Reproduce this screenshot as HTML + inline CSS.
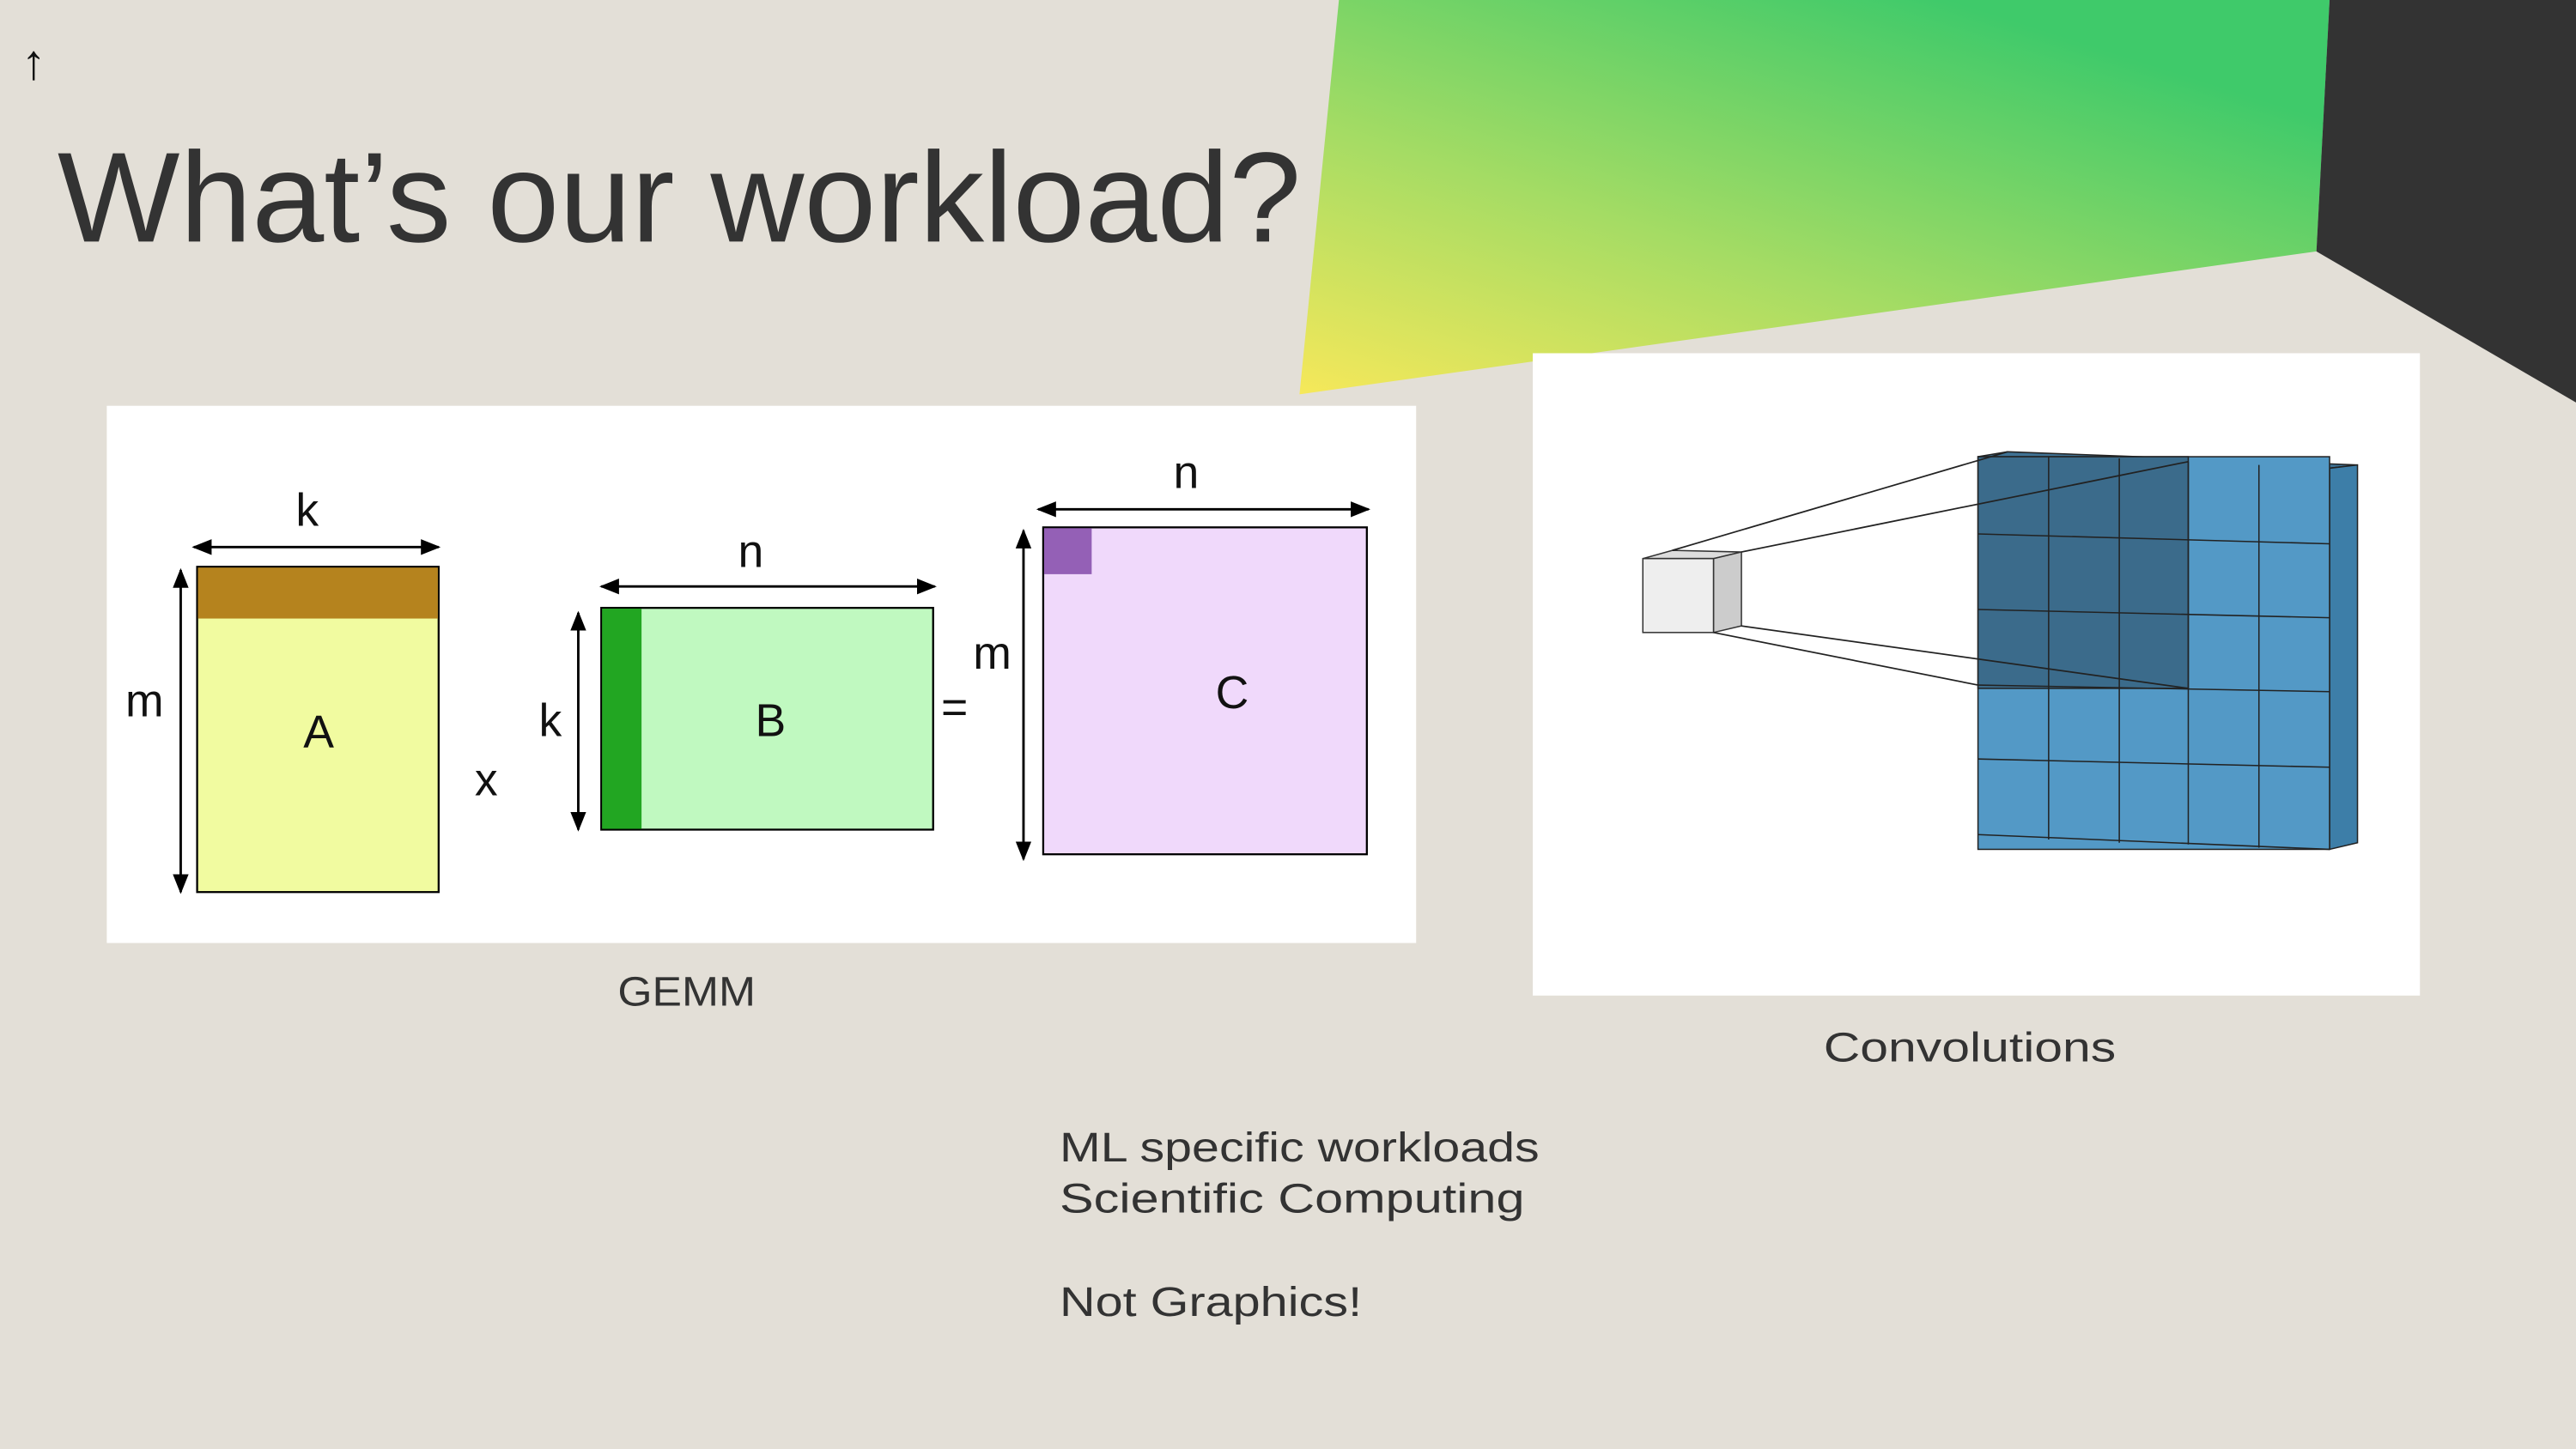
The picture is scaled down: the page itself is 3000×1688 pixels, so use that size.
<!DOCTYPE html>
<html><head><meta charset="utf-8"><style>
html,body{margin:0;padding:0;background:#e3dfd7;}
svg{display:block}
</style></head><body>
<svg width="3000" height="1688" viewBox="0 0 1568 882" preserveAspectRatio="none" xmlns="http://www.w3.org/2000/svg" font-family="Liberation Sans, sans-serif">
<defs>
<linearGradient id="g" x1="0" y1="1" x2="0.75" y2="0.1">
<stop offset="0" stop-color="#f6e85a"/><stop offset="0.45" stop-color="#a6dc64"/><stop offset="1" stop-color="#3fca6a"/>
</linearGradient>
<marker id="ar" viewBox="0 0 10 10" refX="9" refY="5" markerWidth="8" markerHeight="8" orient="auto-start-reverse"><path d="M0,1 L10,5 L0,9 z" fill="#000"/></marker>
</defs>
<rect width="1568" height="882" fill="#e3dfd7"/>
<polygon points="815,0 1418,0 1410,153 791,240" fill="url(#g)"/>
<polygon points="1418,0 1568,0 1568,245 1410,153" fill="#333333"/>
<text x="13" y="48" font-size="30" fill="#111">↑</text>
<text x="35" y="147" font-size="78" fill="#333" textLength="757" lengthAdjust="spacingAndGlyphs">What’s our workload?</text>

<rect x="65" y="247" width="797" height="327" fill="#fff"/>
<rect x="933" y="215" width="540" height="391" fill="#fff"/>

<!-- A -->
<rect x="120" y="345" width="147" height="198" fill="#f1fba0" stroke="#000" stroke-width="1.2"/>
<rect x="120.5" y="345.5" width="146" height="31" fill="#b5831e"/>
<line x1="118" y1="333" x2="267" y2="333" stroke="#000" stroke-width="1.5" marker-start="url(#ar)" marker-end="url(#ar)"/>
<line x1="110" y1="347" x2="110" y2="543" stroke="#000" stroke-width="1.5" marker-start="url(#ar)" marker-end="url(#ar)"/>
<!-- B -->
<rect x="366" y="370" width="202" height="135" fill="#c0f9c0" stroke="#000" stroke-width="1.2"/>
<rect x="366.5" y="370.5" width="24" height="134" fill="#22a622"/>
<line x1="366" y1="357" x2="569" y2="357" stroke="#000" stroke-width="1.5" marker-start="url(#ar)" marker-end="url(#ar)"/>
<line x1="352" y1="373" x2="352" y2="505" stroke="#000" stroke-width="1.5" marker-start="url(#ar)" marker-end="url(#ar)"/>
<!-- C -->
<rect x="635" y="321" width="197" height="199" fill="#f0d9fb" stroke="#000" stroke-width="1.2"/>
<rect x="635.5" y="321.5" width="29" height="28" fill="#9460b6"/>
<line x1="632" y1="310" x2="833" y2="310" stroke="#000" stroke-width="1.5" marker-start="url(#ar)" marker-end="url(#ar)"/>
<line x1="623" y1="323" x2="623" y2="523" stroke="#000" stroke-width="1.5" marker-start="url(#ar)" marker-end="url(#ar)"/>
<g font-size="28" fill="#111" text-anchor="middle">
<text x="187" y="320">k</text><text x="88" y="436">m</text><text x="194" y="455">A</text><text x="296" y="484">x</text>
<text x="457" y="345">n</text><text x="335" y="448">k</text><text x="469" y="448">B</text><text x="581" y="440">=</text>
<text x="722" y="297">n</text><text x="604" y="407">m</text><text x="750" y="431">C</text>
</g>

<!-- convolution grid -->
<polygon points="1204,278 1418,285 1435,283 1222,275" fill="#3f7294" stroke="#222" stroke-width="0.8"/>
<polygon points="1418,285 1435,283 1435,513 1418,517" fill="#3d7ea8" stroke="#222" stroke-width="0.8"/>
<g stroke="#222" stroke-width="0.8">
<rect x="1204" y="278" width="214" height="239" fill="#5399c6"/>
<rect x="1204" y="278" width="128" height="141" fill="#3b6b8b"/>
<line x1="1247" y1="278" x2="1247" y2="511"/><line x1="1290" y1="279" x2="1290" y2="513"/>
<line x1="1332" y1="281" x2="1332" y2="514"/><line x1="1375" y1="283" x2="1375" y2="516"/>
<line x1="1204" y1="325" x2="1418" y2="331"/><line x1="1204" y1="371" x2="1418" y2="376"/>
<line x1="1204" y1="417" x2="1418" y2="421"/><line x1="1204" y1="462" x2="1418" y2="467"/>
<line x1="1204" y1="508" x2="1418" y2="517"/>
</g>
<!-- small cube -->
<polygon points="1000,340 1043,340 1060,336 1018,335" fill="#ddd" stroke="#333" stroke-width="0.8"/>
<polygon points="1043,340 1060,336 1060,381 1043,385" fill="#ccc" stroke="#333" stroke-width="0.8"/>
<rect x="1000" y="340" width="43" height="45" fill="#eee" stroke="#333" stroke-width="0.8"/>
<g stroke="#222" stroke-width="0.9">
<line x1="1018" y1="335" x2="1222" y2="275"/><line x1="1060" y1="336" x2="1332" y2="281"/>
<line x1="1043" y1="385" x2="1204" y2="417"/><line x1="1060" y1="381" x2="1332" y2="419"/>
</g>

<g font-size="25" fill="#333" lengthAdjust="spacingAndGlyphs">
<text x="376" y="612" textLength="84" lengthAdjust="spacingAndGlyphs">GEMM</text>
<text x="1110" y="646" textLength="178" lengthAdjust="spacingAndGlyphs">Convolutions</text>
<text x="645" y="707" textLength="292" lengthAdjust="spacingAndGlyphs">ML specific workloads</text>
<text x="645" y="738" textLength="283" lengthAdjust="spacingAndGlyphs">Scientific Computing</text>
<text x="645" y="801" textLength="184" lengthAdjust="spacingAndGlyphs">Not Graphics!</text>
</g>
</svg>
</body></html>
